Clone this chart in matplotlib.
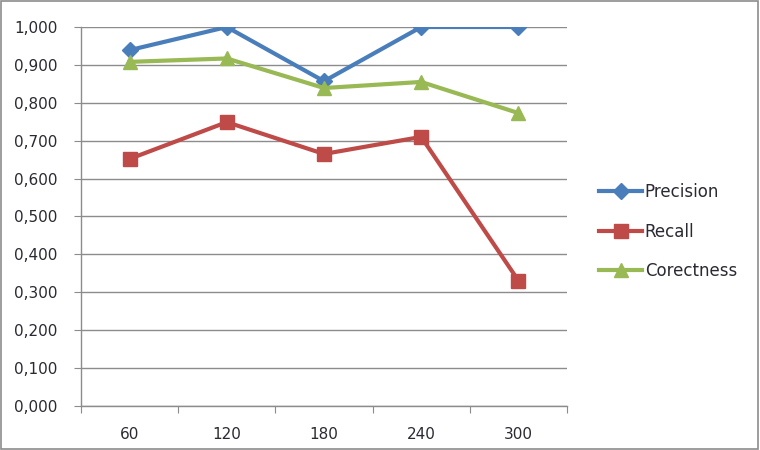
import numpy as np
import matplotlib.pyplot as plt
from matplotlib.patches import Rectangle

categories = ["60", "120", "180", "240", "300"]
precision = [0.939, 1.000, 0.857, 1.000, 1.000]
recall = [0.652, 0.749, 0.665, 0.710, 0.331]
corectness = [0.908, 0.917, 0.839, 0.855, 0.773]
yticks = [0.0, 0.1, 0.2, 0.3, 0.4, 0.5, 0.6, 0.7, 0.8, 0.9, 1.0]

plt.rcParams['font.family'] = ['DejaVu Sans']

fig = plt.figure(figsize=(7.6, 4.5), dpi=100)
ax = fig.add_axes([0.1066, 0.0978, 0.6394, 0.8422])

x = np.arange(len(categories))
ax.plot(x, precision, color='#4A7EBB', lw=3, marker='D', ms=8, label='Precision')
ax.plot(x, recall, color='#BE4B48', lw=3, marker='s', ms=10, label='Recall')
ax.plot(x, corectness, color='#98B954', lw=3, marker='^', ms=10, label='Corectness')

ax.set_xlim(-0.5, len(categories) - 0.5)
ax.set_ylim(0, 1.0)
ax.set_yticks(yticks)
ax.set_yticklabels([f"{v:.3f}".replace('.', ',') for v in yticks])
ax.yaxis.grid(True, color='#8c8c8c', lw=1)
ax.set_axisbelow(True)

ax.set_xticks(np.arange(-0.5, len(categories)), minor=False)
ax.set_xticklabels([])
ax.set_xticks(x, minor=True)
ax.set_xticklabels(categories, minor=True)
ax.tick_params(axis='x', which='major', length=5, color='#8c8c8c', direction='out')
ax.tick_params(axis='x', which='minor', length=0, pad=15, labelsize=11, labelcolor='#2a2a33')
ax.tick_params(axis='y', length=5, color='#8c8c8c', labelsize=11, labelcolor='#2a2a33', pad=12)

for side in ['top', 'right']:
    ax.spines[side].set_visible(False)
for side in ['left', 'bottom']:
    ax.spines[side].set_color('#8c8c8c')
    ax.spines[side].set_linewidth(1)

leg = ax.legend(loc='center left', bbox_to_anchor=(1.035, 0.46), frameon=False,
                fontsize=12, handlelength=2.6, labelspacing=1.3, handletextpad=0.15)
for t in leg.get_texts():
    t.set_color('#2a2a33')

fig.patches.append(Rectangle((0.001, 0.002), 0.997, 0.995, transform=fig.transFigure,
                             fill=False, edgecolor='#8c8c8c', lw=1.2))

fig.savefig('out.png', dpi=100)
